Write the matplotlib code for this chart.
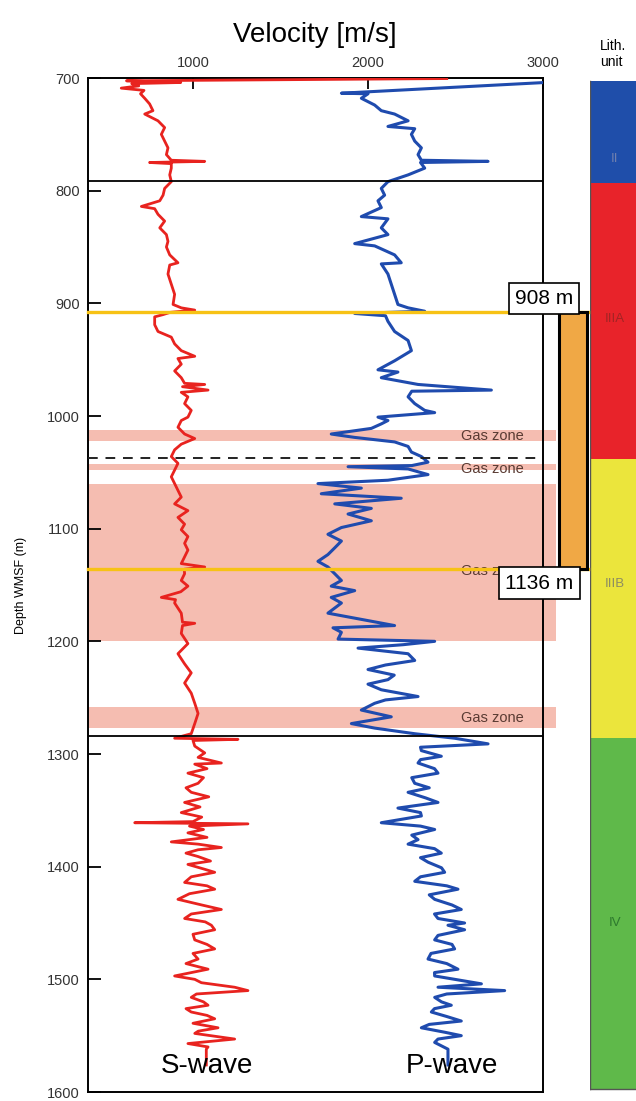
import matplotlib

matplotlib.use("Agg")
import matplotlib.pyplot as plt
from matplotlib.patches import Rectangle

plt.rcParams["font.family"] = ["Liberation Sans", "DejaVu Sans"]

# S-wave log (depth m, velocity m/s)
s_depth = [700.5, 702.5, 704, 705, 707, 709, 711, 714, 718, 723, 729, 732, 738, 744, 750,
           756, 762, 768, 773, 774, 775, 776, 780, 786, 792, 798, 804, 809, 814, 816,
           821, 827, 833, 839, 845, 850, 857, 864, 866, 874, 883, 892, 901, 904, 906,
           908, 910, 912, 919, 925, 930, 936, 942, 947, 949, 954, 960, 966, 971, 972,
           974, 977, 979, 983, 989, 995, 1001, 1004, 1010, 1016, 1020, 1025, 1030, 1036, 1042,
           1048, 1054, 1060, 1066, 1072, 1078, 1084, 1090, 1096, 1101, 1107, 1113, 1119, 1125, 1131,
           1134, 1136, 1140, 1146, 1151, 1156, 1161, 1163, 1166, 1175, 1183, 1184, 1186, 1193, 1202,
           1211, 1220, 1228, 1237, 1246, 1255, 1264, 1273, 1282, 1286, 1287, 1288, 1293, 1299, 1303,
           1308, 1309, 1313, 1317, 1321, 1326, 1330, 1334, 1338, 1343, 1347, 1352, 1356, 1360, 1361,
           1362, 1364, 1367, 1370, 1374, 1378, 1380, 1383, 1385, 1388, 1391, 1395, 1398, 1402, 1405,
           1409, 1414, 1417, 1420, 1424, 1429, 1434, 1438, 1442, 1446, 1449, 1452, 1456, 1460, 1465,
           1469, 1473, 1477, 1482, 1486, 1491, 1497, 1500, 1503, 1507, 1510, 1513, 1516, 1520, 1523,
           1526, 1529, 1532, 1535, 1539, 1543, 1546, 1548, 1553, 1557, 1560, 1562, 1576]
s_vel = [2450, 620, 930, 650, 690, 590, 720, 700, 724, 752, 771, 724, 800, 838, 819,
         838, 857, 848, 876, 1067, 752, 876, 876, 867, 876, 838, 829, 810, 705, 781,
         800, 838, 810, 848, 857, 848, 867, 914, 867, 857, 876, 895, 886, 933, 1010,
         870, 829, 781, 781, 800, 876, 895, 933, 1010, 914, 933, 895, 933, 952, 1067,
         940, 1086, 933, 971, 952, 990, 971, 933, 914, 952, 1010, 933, 895, 876, 914,
         895, 876, 895, 914, 933, 895, 971, 914, 952, 933, 971, 952, 971, 952, 933,
         1067, 950, 952, 933, 971, 930, 819, 900, 895, 933, 940, 1010, 940, 933, 971,
         914, 952, 990, 952, 990, 1010, 1029, 1010, 990, 895, 1257, 1000, 1010, 1067, 1029,
         1162, 1010, 1080, 971, 1060, 1029, 960, 990, 1090, 952, 1040, 933, 1050, 1000, 667,
         1314, 980, 1060, 971, 1080, 876, 1029, 1162, 1029, 960, 1029, 1100, 971, 1060, 1124,
         990, 952, 1080, 1124, 980, 914, 1050, 1162, 990, 952, 1070, 1105, 1124, 1000, 1010,
         1080, 1124, 1000, 1029, 960, 1086, 895, 1010, 1048, 1238, 1314, 1020, 990, 1060, 1086,
         960, 990, 1080, 1124, 1000, 1143, 1030, 1010, 1238, 971, 1086, 1076, 1076]

# P-wave log (depth m, velocity m/s)
p_depth = [704, 713.5, 714, 718, 724, 729, 732, 738, 743, 745, 750, 756, 762, 768, 773,
           774, 775, 780, 786, 792, 798, 804, 809, 815, 823, 825, 833, 839, 847, 849,
           857, 864, 865, 874, 883, 892, 901, 904, 907, 909, 911, 916, 925, 933, 942,
           951, 959, 961, 966, 972, 977, 978, 983, 989, 995, 997, 1001, 1004, 1007, 1011,
           1016, 1019, 1023, 1027, 1032, 1036, 1041, 1044, 1045, 1047, 1052, 1057, 1060, 1064, 1069,
           1073, 1078, 1082, 1087, 1093, 1099, 1105, 1111, 1117, 1123, 1129, 1134, 1140, 1146, 1151,
           1155, 1161, 1166, 1175, 1186, 1188, 1192, 1198, 1200, 1203, 1206, 1211, 1217, 1221, 1225,
           1230, 1234, 1238, 1243, 1249, 1252, 1255, 1261, 1267, 1273, 1277, 1282, 1286, 1291, 1294,
           1297, 1302, 1305, 1308, 1313, 1317, 1321, 1326, 1330, 1334, 1339, 1343, 1348, 1352, 1355,
           1361, 1364, 1367, 1372, 1376, 1380, 1384, 1388, 1392, 1396, 1401, 1405, 1409, 1413, 1417,
           1420, 1425, 1429, 1434, 1438, 1442, 1446, 1450, 1452, 1456, 1461, 1465, 1469, 1473, 1477,
           1482, 1486, 1491, 1494, 1497, 1504, 1507, 1510, 1513, 1516, 1520, 1523, 1526, 1529, 1533,
           1537, 1540, 1543, 1547, 1550, 1553, 1556, 1562, 1576]
p_vel = [3010, 1848, 2000, 1962, 2038, 2076, 2152, 2229, 2114, 2267, 2248, 2267, 2305, 2286, 2305,
         2686, 2300, 2324, 2229, 2114, 2076, 2095, 2057, 2076, 1962, 2114, 2076, 2114, 1924, 2038,
         2152, 2190, 2076, 2114, 2133, 2152, 2171, 2229, 2324, 1924, 2100, 2114, 2152, 2229, 2248,
         2152, 2057, 2171, 2076, 2286, 2705, 2250, 2229, 2267, 2324, 2381, 2057, 2114, 2076, 2019,
         1790, 1924, 2152, 2229, 2248, 2305, 2343, 2250, 1886, 2229, 2343, 2114, 1714, 1962, 1733,
         2190, 1810, 2019, 1886, 2019, 1848, 1771, 1848, 1810, 1771, 1714, 1771, 1810, 1848, 1790,
         1924, 1790, 1848, 1771, 2152, 1800, 1848, 1829, 2381, 2200, 1943, 2229, 2267, 2100, 2000,
         2150, 2114, 2000, 2076, 2286, 2100, 2038, 1962, 2133, 1905, 2038, 2267, 2495, 2686, 2300,
         2305, 2419, 2300, 2286, 2380, 2400, 2250, 2267, 2350, 2229, 2330, 2400, 2171, 2300, 2305,
         2076, 2300, 2381, 2250, 2286, 2229, 2380, 2419, 2300, 2343, 2420, 2438, 2300, 2267, 2450,
         2514, 2350, 2381, 2480, 2533, 2380, 2400, 2552, 2457, 2552, 2400, 2381, 2480, 2495, 2360,
         2343, 2450, 2514, 2380, 2381, 2648, 2400, 2781, 2450, 2381, 2420, 2476, 2380, 2362, 2450,
         2533, 2350, 2305, 2440, 2533, 2400, 2381, 2457, 2457]

# gas zones (top, bottom depth) and labels
gas_top = [1012, 1043, 1060, 1258]
gas_bottom = [1022, 1048, 1200, 1277]
gas_label_depth = [1018, 1047, 1138, 1268]

unit_boundaries = [791, 1284]
dashed_depth = 1037
marker_depths = [908, 1136]

# lithological units
unit_names = ["II", "IIIA", "IIIB", "IV"]
unit_top = [703, 793, 1038, 1286]
unit_bottom = [793, 1038, 1286, 1597]
unit_label_depth = [772, 914, 1149, 1450]
unit_colors = ["#1f4eaa", "#e8232a", "#ebe53c", "#5fb94a"]
unit_text_colors = ["#6f7fae", "#a32424", "#8c8c62", "#2e7a2e"]

FIG_W, FIG_H = 636, 1101
AX_L, AX_R, AX_T, AX_B = 88, 543, 78, 1092

fig = plt.figure(figsize=(FIG_W / 100, FIG_H / 100), dpi=100)
ax = fig.add_axes([AX_L / FIG_W, 1 - AX_B / FIG_H, (AX_R - AX_L) / FIG_W, (AX_B - AX_T) / FIG_H])
ax.set_xlim(400, 3000)
ax.set_ylim(1600, 700)
ax.set_zorder(2)
ax.patch.set_visible(False)

# gas zones, running a bit past the right spine
for top, bot in zip(gas_top, gas_bottom):
    ax.axhspan(top, bot, xmin=0, xmax=1.029, color="#f5bdb1", lw=0, zorder=0, clip_on=False)
for d in gas_label_depth:
    ax.text(2710, d, "Gas zone", fontsize=10.5, color="#5a3b33", ha="center", va="center", zorder=1)

ax.plot(s_vel, s_depth, color="#e8231f", lw=2.0, zorder=3)
ax.plot(p_vel, p_depth, color="#1f4bae", lw=2.2, zorder=3)

for d in unit_boundaries:
    ax.axhline(d, color="black", lw=1.3, zorder=4)
ax.axhline(dashed_depth, xmax=0.993, color="#222222", lw=1.4, ls=(0, (5, 4)), zorder=4)
for d in marker_depths:
    ax.axhline(d, xmax=1.099, color="#f7c215", lw=2.4, zorder=5, clip_on=False)

# cored interval bar to the right of the log
ax.add_patch(Rectangle((3090, marker_depths[0]), 160, marker_depths[1] - marker_depths[0],
                       facecolor="#f0a845", edgecolor="black", lw=2.2, clip_on=False, zorder=5))

box = dict(boxstyle="square,pad=0.3", facecolor="white", edgecolor="black", lw=1.2)
ax.text(3006, marker_depths[0] - 4, f"{marker_depths[0]} m", fontsize=15, ha="center", va="bottom",
        bbox=box, zorder=6, clip_on=False)
ax.text(2980, marker_depths[1] + 4, f"{marker_depths[1]} m", fontsize=15, ha="center", va="top",
        bbox=box, zorder=6, clip_on=False)

ax.text(1078, 1577, "S-wave", fontsize=20, ha="center", va="center", zorder=6)
ax.text(2480, 1577, "P-wave", fontsize=20, ha="center", va="center", zorder=6)

ax.xaxis.tick_top()
ax.set_xticks([1000, 2000, 3000])
ax.set_yticks(range(700, 1601, 100))
ax.tick_params(axis="both", direction="in", length=9, width=1.3, labelsize=10.5, pad=6,
               colors="black", labelcolor="#333333")
ax.tick_params(axis="x", length=8)
for sp in ax.spines.values():
    sp.set_linewidth(1.4)
ax.set_ylabel("Depth WMSF (m)", fontsize=9, labelpad=14)
fig.text(315 / FIG_W, 1 - 35 / FIG_H, "Velocity [m/s]", fontsize=20, ha="center", va="center")

# lithological unit column
lax = fig.add_axes([590 / FIG_W, 1 - AX_B / FIG_H, 50 / FIG_W, (AX_B - AX_T) / FIG_H])
lax.set_zorder(1)
lax.set_xlim(0, 1)
lax.set_ylim(1600, 700)
lax.axis("off")
for name, top, bot, mid, c, tc in zip(unit_names, unit_top, unit_bottom, unit_label_depth,
                                      unit_colors, unit_text_colors):
    lax.add_patch(Rectangle((0, top), 1, bot - top, facecolor=c, edgecolor="none"))
    lax.text(0.5, mid, name, fontsize=9.5, color=tc, ha="center", va="center")
lax.plot([0, 0], [unit_top[0], unit_bottom[-1]], color="#555555", lw=1)
lax.plot([0, 1], [unit_bottom[-1], unit_bottom[-1]], color="#555555", lw=1)
fig.text(600 / FIG_W, 1 - 54 / FIG_H, "Lith.\nunit", fontsize=10, ha="left", va="center",
         linespacing=1.25)

fig.savefig("out.png", dpi=100)
